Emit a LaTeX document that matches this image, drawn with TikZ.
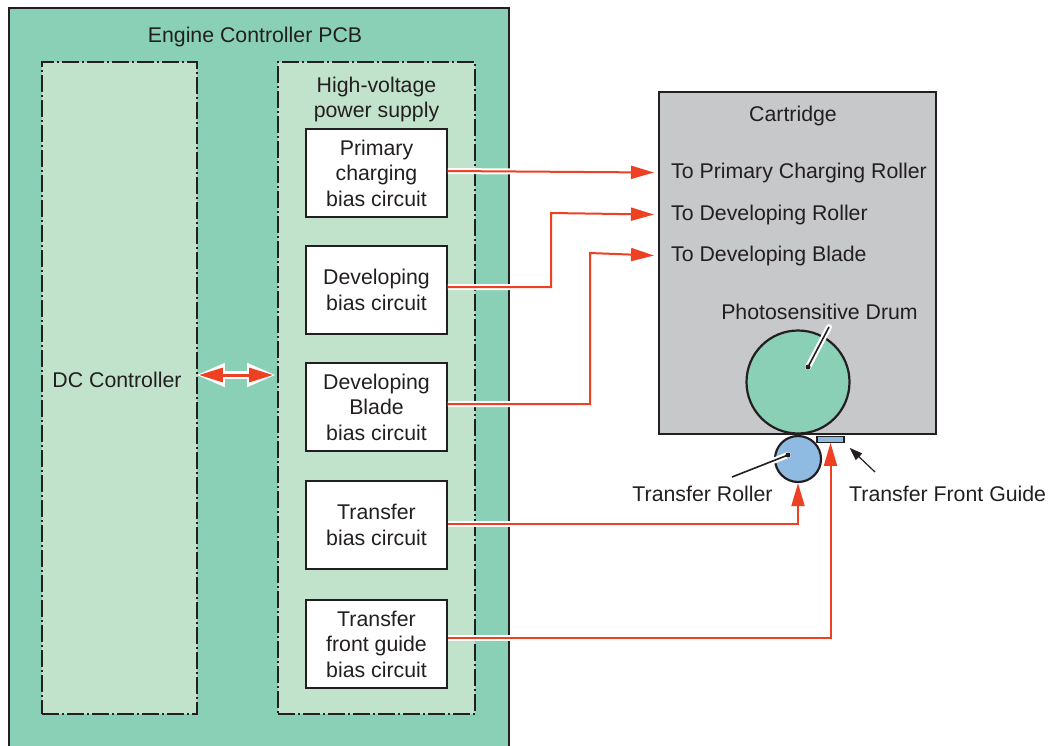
\documentclass[tikz,border=0pt]{standalone}
\usepackage{fontspec}
\setmainfont{Liberation Sans}
\usetikzlibrary{arrows.meta}
\definecolor{pcbgreen}{HTML}{89D0B7}
\definecolor{lightgreen}{HTML}{C1E2CB}
\definecolor{cartgray}{HTML}{C7C8CA}
\definecolor{redline}{HTML}{EE4124}
\definecolor{rollerblue}{HTML}{8FBBE3}
\definecolor{ink}{HTML}{231F20}
\begin{document}
\begin{tikzpicture}[x=1pt,y=-1pt,
  every node/.style={inner sep=0pt, text=ink, font=\fontsize{21.3}{25.5}\selectfont},
  dashdot/.style={draw=ink, line width=1.8pt, fill=lightgreen, dash pattern=on 17pt off 3pt on 2pt off 3pt},
  circuit/.style={draw=ink, line width=1.8pt, fill=white, minimum width=141pt, minimum height=88pt, align=center},
  feed/.style={draw=redline, line width=2pt, -{Triangle[length=23pt,width=13pt]},
    preaction={draw=white, line width=6pt, -, shorten >=14pt}},
  leader/.style={draw=ink, line width=1.6pt, preaction={draw=white, line width=6pt, line cap=round}}
]
\path[clip] (0,0) rectangle (1048,745);
% PCB
\draw[fill=pcbgreen, draw=ink, line width=1.5pt] (9,8) rectangle (509,780);
\node (pcblabel) at (255,37) {Engine Controller PCB};
\node[dashdot, minimum width=155pt, minimum height=652pt] (dc) at (119.5,388) {};
\node (dclabel) at (117,379.5) {DC Controller};
\node[dashdot, minimum width=197pt, minimum height=652pt] (hv) at (376.5,388) {};
\node[align=center] (hvlabel) at (376.5,99.5) {High-voltage\\power supply};
\node[circuit] (prim) at (376.5,173) {Primary\\charging\\bias circuit};
\node[circuit] (dev) at (376.5,290) {Developing\\bias circuit};
\node[circuit] (blade) at (376.5,407) {Developing\\Blade\\bias circuit};
\node[circuit] (tb) at (376.5,525) {Transfer\\bias circuit};
\node[circuit] (tfg) at (376.5,644) {Transfer\\front guide\\bias circuit};
% Cartridge
\node[draw=ink, fill=cartgray, line width=1.8pt, minimum width=277pt, minimum height=342pt] (cart) at (797.5,263) {};
\node (cartlabel) at (793,115.5) {Cartridge};
\node[anchor=west] (tpcr) at (671,172.5) {To Primary Charging Roller};
\node[anchor=west] (tdr) at (671,214.5) {To Developing Roller};
\node[anchor=west] (tdb) at (671,255.5) {To Developing Blade};
\node[circle, draw=ink, line width=2.2pt, fill=pcbgreen, minimum size=103pt] (drum) at (798,382) {};
\node (drumlabel) at (819.5,311.5) {Photosensitive Drum};
\node[circle, draw=ink, line width=2.2pt, fill=rollerblue, minimum size=46pt] (roller) at (798,459) {};
\node[draw=ink, line width=1.2pt, fill=rollerblue, minimum width=27pt, minimum height=5.5pt] (guide) at (830.5,439.5) {};
\node (rollerlabel) at (702.5,493.5) {Transfer Roller};
\node[anchor=west] (guidelabel) at (849,493.5) {Transfer Front Guide};
% leaders
\coordinate (drumdot) at (808,367);
\coordinate (drumend) at (829,327);
\draw[leader] (drumdot) -- (drumend);
\fill[ink] (drumdot) circle (2.5pt);
\coordinate (rollerdot) at (788,455);
\coordinate (rollerend) at (732,477);
\draw[leader] (rollerdot) -- (rollerend);
\fill[ink] (rollerdot) circle (2.5pt);
\coordinate (gtail) at (875,472);
\draw[ink, line width=1.2pt, -{Triangle[length=13pt,width=9pt]}] (gtail) -- ([xshift=5pt,yshift=-5pt]guide.south east);
% feeds
\coordinate (devx) at (551,0);
\coordinate (bladex) at (590,0);
\draw[feed] (prim.east |- 0,171) -- ([xshift=-17pt]tpcr.west);
\draw[feed] ([yshift=3pt]dev.east) -| (devx |- 0,213) -- ([xshift=-17pt]tdr.west);
\draw[feed] ([yshift=3pt]blade.east) -| (bladex |- 0,253) -- ([xshift=-17pt]tdb.west);
\draw[feed] ([yshift=1.5pt]tb.east) -| (roller.south);
\draw[feed] ([yshift=6pt]tfg.east) -| (guide.south);
% DC <-> HV
\coordinate (dcy) at (0,375);
\draw[white, line width=8pt, {Triangle[length=29pt,width=22pt]}-{Triangle[length=29pt,width=22pt]}, shorten <=-2pt, shorten >=0pt]
  (dc.east |- dcy) -- ([xshift=-1pt]hv.west |- dcy);
\draw[redline, line width=3pt, {Triangle[length=24pt,width=14pt]}-{Triangle[length=24pt,width=14pt]}, shorten <=1pt, shorten >=3pt]
  (dc.east |- dcy) -- ([xshift=-1pt]hv.west |- dcy);
\end{tikzpicture}
\end{document}
